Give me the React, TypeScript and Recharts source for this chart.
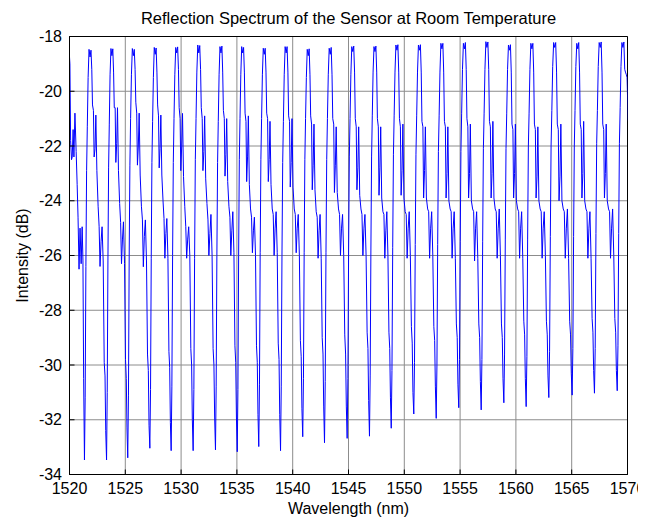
import React from 'react';
import { LineChart, Line, XAxis, YAxis, CartesianGrid, ReferenceArea } from 'recharts';

const title = 'Reflection Spectrum of the Sensor at Room Temperature';
const xLabel = 'Wavelength (nm)';
const yLabel = 'Intensity (dB)';
const xTicks = [1520, 1525, 1530, 1535, 1540, 1545, 1550, 1555, 1560, 1565, 1570];
const yTicks = [-34, -32, -30, -28, -26, -24, -22, -20, -18];

// wavelengths of the deep reflection dips (first and last lie just outside the axis)
const dipWavelength = [
  1519.39, 1521.34, 1523.32, 1525.22, 1527.2, 1529.11, 1531.08, 1533.08, 1535.03, 1536.96,
  1538.91, 1540.9, 1542.85, 1544.88, 1546.88, 1548.83, 1550.85, 1552.86, 1554.88, 1556.89,
  1558.92, 1560.92, 1562.95, 1565.04, 1567.04, 1569.08, 1571.1,
];

// position of each sampled point inside one dip-to-dip period (fraction of the period)
const shapeFraction = [
  0, 0.032, 0.065, 0.097, 0.129, 0.166, 0.207, 0.253, 0.295, 0.332, 0.364, 0.406, 0.438,
  0.479, 0.516, 0.562, 0.618, 0.664, 0.705, 0.751, 0.797, 0.848, 0.894, 0.931, 0.963,
];

// intensity (dB) read for each period, starting at its dip
const periodIntensity = [
  [-33.4, -31.2, -26.5, -23.0, -21.3, -19.6, -18.5, -18.6, -18.5, -19.0, -21.8, -22.5, -22.4, -21.4, -22.4, -20.8, -22.2, -23.4, -24.6, -26.5, -25.0, -26.3, -24.95, -26.2, -30.5],
  [-33.47, -31.2, -26.4, -22.9, -21.3, -19.5, -18.47, -18.75, -18.5, -19.2, -20.5, -20.7, -22.4, -22.1, -20.87, -22.9, -24.2, -24.95, -26.4, -25.5, -24.95, -26.2, -29.9, -30.4, -32.4],
  [-33.47, -31.0, -26.2, -22.8, -21.2, -19.4, -18.44, -18.7, -18.45, -19.3, -20.6, -20.6, -22.6, -21.9, -20.6, -22.9, -24.1, -24.8, -26.3, -25.4, -24.77, -26.3, -29.8, -30.5, -32.3],
  [-33.39, -31.1, -26.0, -22.7, -21.0, -19.4, -18.44, -18.7, -18.47, -19.2, -20.4, -20.8, -22.7, -22.0, -20.8, -23.06, -24.2, -24.7, -26.41, -25.3, -24.7, -26.2, -29.6, -30.2, -32.2],
  [-33.04, -30.9, -26.1, -22.6, -21.1, -19.5, -18.4, -18.65, -18.42, -19.3, -20.5, -20.9, -22.8, -22.1, -20.87, -23.06, -24.0, -24.65, -26.1, -25.2, -24.65, -26.1, -29.5, -30.1, -32.1],
  [-33.13, -30.8, -26.0, -22.6, -21.0, -19.4, -18.4, -18.6, -18.38, -19.2, -20.6, -21.0, -22.9, -22.0, -20.81, -23.12, -24.2, -24.95, -26.1, -25.4, -24.95, -26.0, -29.4, -30.0, -32.0],
  [-33.13, -30.9, -26.1, -22.5, -21.0, -19.3, -18.31, -18.6, -18.33, -19.2, -20.6, -21.0, -22.9, -22.2, -20.9, -23.2, -24.1, -24.7, -26.0, -25.2, -24.5, -26.0, -29.4, -30.0, -31.9],
  [-33.1, -30.8, -26.0, -22.6, -21.1, -19.4, -18.37, -18.6, -18.35, -19.3, -20.7, -21.0, -23.1, -22.3, -21.0, -23.3, -24.2, -24.6, -26.0, -25.1, -24.4, -25.9, -29.3, -29.9, -31.9],
  [-33.17, -30.9, -26.0, -22.5, -21.0, -19.4, -18.37, -18.6, -18.4, -19.3, -20.8, -21.1, -23.3, -22.4, -20.9, -23.4, -24.3, -24.6, -25.9, -25.1, -24.6, -26.0, -29.3, -29.9, -31.8],
  [-32.98, -30.7, -25.9, -22.5, -21.0, -19.4, -18.43, -18.65, -18.43, -19.3, -20.8, -21.0, -23.3, -22.5, -21.1, -23.4, -24.3, -24.5, -26.0, -25.0, -24.4, -25.9, -29.2, -29.8, -31.8],
  [-33.13, -30.8, -26.0, -22.6, -21.1, -19.4, -18.37, -18.6, -18.37, -19.3, -20.9, -21.1, -23.5, -22.6, -21.0, -23.5, -24.3, -24.5, -25.9, -25.0, -24.5, -26.0, -29.1, -29.7, -31.6],
  [-32.62, -30.5, -25.9, -22.5, -21.0, -19.5, -18.47, -18.7, -18.45, -19.4, -20.9, -21.2, -23.6, -22.7, -21.2, -23.6, -24.4, -24.6, -26.1, -25.1, -24.5, -26.1, -29.0, -29.6, -31.5],
  [-32.84, -30.6, -25.9, -22.5, -21.0, -19.4, -18.43, -18.65, -18.4, -19.4, -21.0, -21.2, -23.7, -22.7, -21.3, -23.7, -24.3, -24.5, -26.0, -25.0, -24.5, -26.0, -28.9, -29.6, -31.5],
  [-32.68, -30.5, -25.8, -22.4, -21.0, -19.4, -18.37, -18.55, -18.35, -19.3, -21.0, -21.3, -23.6, -22.8, -21.3, -23.8, -24.3, -24.5, -26.0, -25.0, -24.5, -26.0, -28.8, -29.4, -31.3],
  [-32.6, -30.4, -25.8, -22.4, -20.9, -19.3, -18.37, -18.55, -18.35, -19.3, -21.0, -21.3, -23.8, -22.8, -21.3, -23.9, -24.4, -24.5, -26.1, -25.1, -24.4, -26.0, -28.8, -29.4, -31.2],
  [-32.31, -30.2, -25.7, -22.3, -20.9, -19.3, -18.31, -18.5, -18.3, -19.3, -21.0, -21.3, -23.8, -22.9, -21.2, -23.9, -24.4, -24.5, -26.1, -25.0, -24.4, -26.0, -28.6, -29.2, -31.0],
  [-31.79, -29.9, -25.6, -22.3, -20.9, -19.3, -18.31, -18.5, -18.3, -19.3, -21.1, -21.3, -23.9, -22.9, -21.3, -23.9, -24.3, -24.4, -26.1, -25.0, -24.4, -26.0, -28.6, -29.1, -30.8],
  [-31.95, -30.0, -25.6, -22.2, -20.9, -19.3, -18.25, -18.45, -18.25, -19.3, -21.1, -21.3, -23.9, -23.0, -21.3, -24.0, -24.3, -24.4, -26.1, -25.0, -24.4, -26.1, -28.5, -29.0, -30.7],
  [-31.56, -29.8, -25.5, -22.2, -20.8, -19.2, -18.25, -18.45, -18.22, -19.2, -21.0, -21.3, -23.9, -23.0, -21.2, -24.0, -24.3, -24.4, -26.2, -25.0, -24.4, -26.1, -28.5, -29.0, -30.6],
  [-31.64, -29.8, -25.5, -22.1, -20.8, -19.2, -18.19, -18.4, -18.2, -19.2, -21.1, -21.3, -23.9, -23.0, -21.1, -23.9, -24.3, -24.4, -26.1, -25.0, -24.3, -26.0, -28.5, -29.0, -30.5],
  [-31.38, -29.6, -25.4, -22.1, -20.8, -19.2, -18.31, -18.5, -18.3, -19.3, -21.2, -21.4, -23.9, -23.0, -21.2, -24.0, -24.3, -24.4, -26.1, -25.0, -24.4, -26.1, -28.4, -28.9, -30.5],
  [-31.52, -29.7, -25.4, -22.0, -20.8, -19.2, -18.25, -18.45, -18.25, -19.3, -21.2, -21.4, -23.9, -23.1, -21.3, -24.0, -24.3, -24.4, -26.1, -25.0, -24.4, -26.0, -28.4, -28.9, -30.4],
  [-31.19, -29.5, -25.3, -22.0, -20.7, -19.1, -18.22, -18.4, -18.22, -19.3, -21.2, -21.4, -24.0, -23.1, -21.2, -24.0, -24.3, -24.4, -26.1, -25.0, -24.3, -26.1, -28.4, -28.9, -30.3],
  [-31.1, -29.4, -25.3, -22.0, -20.7, -19.1, -18.25, -18.45, -18.22, -19.3, -21.2, -21.4, -23.9, -23.0, -21.1, -24.0, -24.3, -24.4, -26.1, -25.0, -24.4, -26.1, -28.3, -28.8, -30.2],
  [-31.03, -29.4, -25.2, -21.9, -20.7, -19.1, -18.22, -18.4, -18.2, -19.3, -21.2, -21.4, -23.9, -23.0, -21.2, -24.0, -24.3, -24.4, -26.1, -25.0, -24.3, -26.0, -28.3, -28.8, -30.2],
  [-30.94, -29.3, -25.2, -21.9, -20.6, -19.1, -18.22, -18.4, -18.2, -19.2, -19.3, -19.4, -19.5, -21.0, -21.2, -23.9, -24.3, -24.4, -26.1, -25.0, -24.4, -26.0, -28.3, -28.8, -30.2],
];

const data: { wl: number; v: number }[] = [];
periodIntensity.forEach((row, k) => {
  const start = dipWavelength[k];
  const span = dipWavelength[k + 1] - start;
  row.forEach((v, j) => {
    data.push({ wl: start + shapeFraction[j] * span, v });
  });
});

const FONT = '"Liberation Sans", Arial, Helvetica, sans-serif';
const FS = 16;

export default function App() {
  return (
    <div style={{ position: 'relative', width: 638, height: 515, background: '#fff' }}>
      <div
        style={{
          position: 'absolute',
          left: 61.5,
          width: 558,
          top: 1,
          lineHeight: '18px',
          textAlign: 'center',
          fontFamily: FONT,
          fontSize: 16.5,
          color: '#000',
          whiteSpace: 'nowrap',
        }}
      >
        {title}
      </div>
      <LineChart
        width={638}
        height={515}
        data={data}
        margin={{ top: 28.5, right: 18.5, bottom: 8, left: 0.5 }}
      >
        <CartesianGrid stroke="#8c8c8c" strokeWidth={1} />
        <XAxis
          dataKey="wl"
          type="number"
          domain={[1520, 1570]}
          ticks={xTicks}
          allowDataOverflow
          interval={0}
          height={40.5}
          tickSize={-5}
          tickMargin={13}
          axisLine={{ stroke: '#000' }}
          tickLine={{ stroke: '#000' }}
          tick={{ fill: '#000', fontSize: FS, fontFamily: FONT }}
          label={{ value: xLabel, position: 'insideBottom', offset: 1.5, fill: '#000', fontSize: FS, fontFamily: FONT }}
        />
        <XAxis
          xAxisId="top"
          orientation="top"
          type="number"
          domain={[1520, 1570]}
          ticks={xTicks}
          allowDataOverflow
          interval={0}
          height={0}
          tickSize={-5}
          axisLine={false}
          tickLine={{ stroke: '#000' }}
          tickFormatter={() => ''}
        />
        <YAxis
          type="number"
          domain={[-34, -18]}
          ticks={yTicks}
          allowDataOverflow
          interval={0}
          width={61}
          tickSize={-5}
          tickMargin={12.5}
          axisLine={{ stroke: '#000' }}
          tickLine={{ stroke: '#000' }}
          tick={{ fill: '#000', fontSize: FS, fontFamily: FONT }}
          label={{
            value: yLabel,
            angle: -90,
            position: 'insideLeft',
            offset: 13.5,
            fill: '#000',
            fontSize: FS,
            fontFamily: FONT,
            style: { textAnchor: 'middle' },
          }}
        />
        <YAxis
          yAxisId="right"
          orientation="right"
          type="number"
          domain={[-34, -18]}
          ticks={yTicks}
          allowDataOverflow
          interval={0}
          width={0}
          tickSize={-5}
          axisLine={false}
          tickLine={{ stroke: '#000' }}
          tickFormatter={() => ''}
        />
        <ReferenceArea x1={1520} x2={1570} y1={-34} y2={-18} fill="none" stroke="#000" strokeWidth={1} />
        <Line
          type="linear"
          dataKey="v"
          stroke="#0000ff"
          strokeWidth={1}
          dot={false}
          activeDot={false}
          isAnimationActive={false}
        />
      </LineChart>
    </div>
  );
}
